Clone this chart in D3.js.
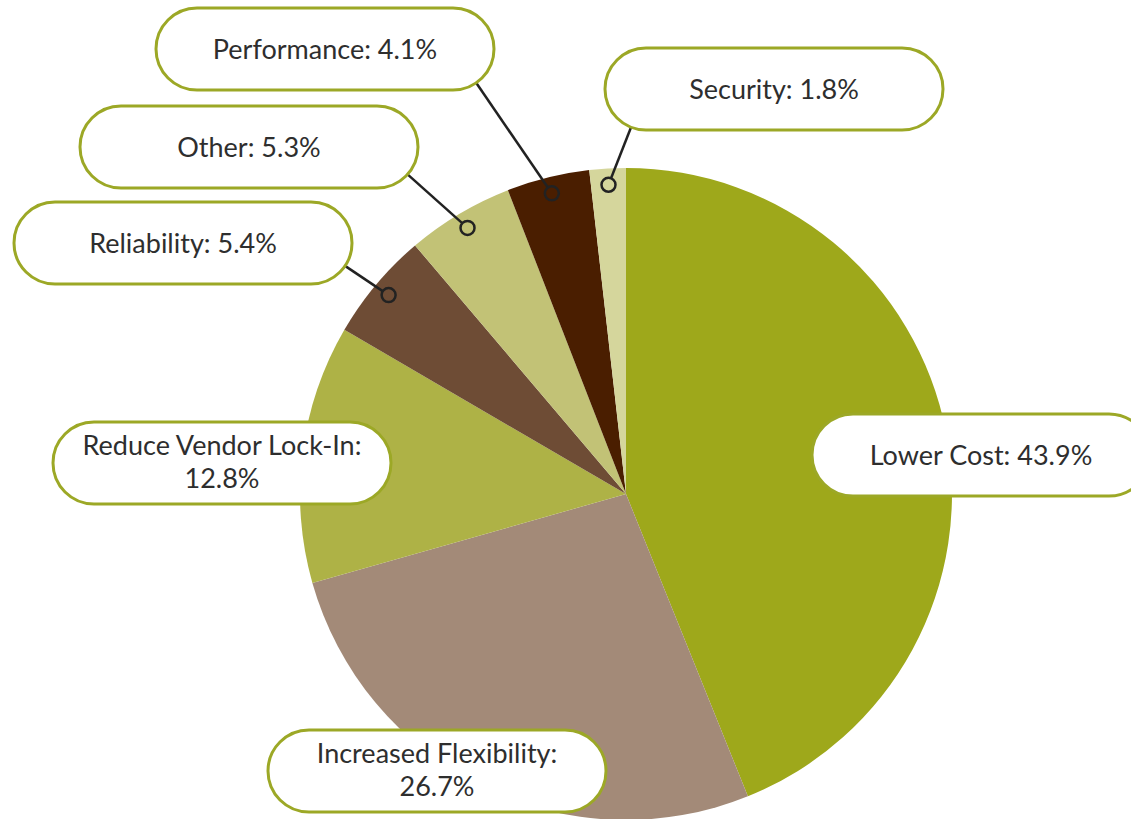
<!DOCTYPE html>
<html>
<head>
<meta charset="utf-8">
<script src="https://cdn.jsdelivr.net/npm/d3@7"></script>
<style>
  body { margin: 0; background: #fff; }
  svg { display: block; }
  .lbl text { font-family: Lato, "Open Sans", sans-serif; font-size: 27px; fill: #2e2e2e; }
</style>
</head>
<body>
<svg id="chart" width="1131" height="819"></svg>
<script>
"use strict";

// data, clockwise from 12 o'clock
var categories = ["Lower Cost", "Increased Flexibility", "Reduce Vendor Lock-In", "Reliability", "Other", "Performance", "Security"];
var values = [43.9, 26.7, 12.8, 5.4, 5.3, 4.1, 1.8];
var colors = ["#9ea81b", "#a38a78", "#aeb246", "#6e4c35", "#c2c276", "#4a1e00", "#d5d69c"];

// label box centres + whether a leader line is used
var label_layout = [
	{ cx: 981, cy: 455, lines: 1, leader: false },
	{ cx: 437, cy: 771, lines: 2, leader: false },
	{ cx: 222, cy: 463, lines: 2, leader: false },
	{ cx: 183, cy: 243, lines: 1, leader: true },
	{ cx: 249, cy: 147, lines: 1, leader: true },
	{ cx: 325, cy: 49, lines: 1, leader: true },
	{ cx: 774, cy: 89, lines: 1, leader: true }
];

var cx = 626, cy = 494, radius = 326,
	box_w = 338, box_h = 82;

var svg = d3.select("#chart");

var pie = d3.pie().sort(null).value(function(d) { return d; });
var arcs = pie(values);
var arc = d3.arc().innerRadius(0).outerRadius(radius);
var dotArc = d3.arc().innerRadius(radius * 0.95).outerRadius(radius * 0.95);

var g = svg.append("g").attr("transform", "translate(" + cx + "," + cy + ")");

g.selectAll("path.slice")
	.data(arcs)
	.enter().append("path")
		.attr("class", "slice")
		.attr("d", arc)
		.attr("fill", function(d, i) { return colors[i]; });

// leader lines: from dot to nearest point on the box
function boxPoint(lay, px, py) {
	var x0 = lay.cx - box_w / 2, x1 = lay.cx + box_w / 2,
		r = box_h / 2;
	var qx = Math.max(x0 + r, Math.min(x1 - r, px));
	var dx = px - qx, dy = py - lay.cy;
	var len = Math.sqrt(dx * dx + dy * dy);
	return [qx + dx / len * r, lay.cy + dy / len * r];
}

arcs.forEach(function(d, i) {
	var lay = label_layout[i];
	if (!lay.leader) return;
	var c = dotArc.centroid(d);
	var px = cx + c[0], py = cy + c[1];
	var e = boxPoint(lay, px, py);
	svg.append("line")
		.attr("x1", px).attr("y1", py)
		.attr("x2", e[0]).attr("y2", e[1])
		.attr("stroke", "#222").attr("stroke-width", 2.5);
	svg.append("circle")
		.attr("cx", px).attr("cy", py).attr("r", 7)
		.attr("fill", colors[i])
		.attr("stroke", "#222").attr("stroke-width", 2.5);
});

// label boxes
var lbl = svg.selectAll("g.lbl")
	.data(arcs)
	.enter().append("g")
		.attr("class", "lbl")
		.attr("transform", function(d, i) { return "translate(" + label_layout[i].cx + "," + label_layout[i].cy + ")"; });

lbl.append("rect")
	.attr("x", -box_w / 2).attr("y", -box_h / 2)
	.attr("width", box_w).attr("height", box_h)
	.attr("rx", box_h / 2).attr("ry", box_h / 2)
	.attr("fill", "#fff")
	.attr("stroke", "#9ca826")
	.attr("stroke-width", 3);

lbl.each(function(d, i) {
	var name = categories[i] + ":", pct = values[i].toFixed(1) + "%";
	if (label_layout[i].lines == 2) {
		d3.select(this).append("text").attr("text-anchor", "middle").attr("y", -8).text(name);
		d3.select(this).append("text").attr("text-anchor", "middle").attr("y", 25).text(pct);
	} else {
		d3.select(this).append("text").attr("text-anchor", "middle").attr("y", 10).text(name + " " + pct);
	}
});
</script>
</body>
</html>
